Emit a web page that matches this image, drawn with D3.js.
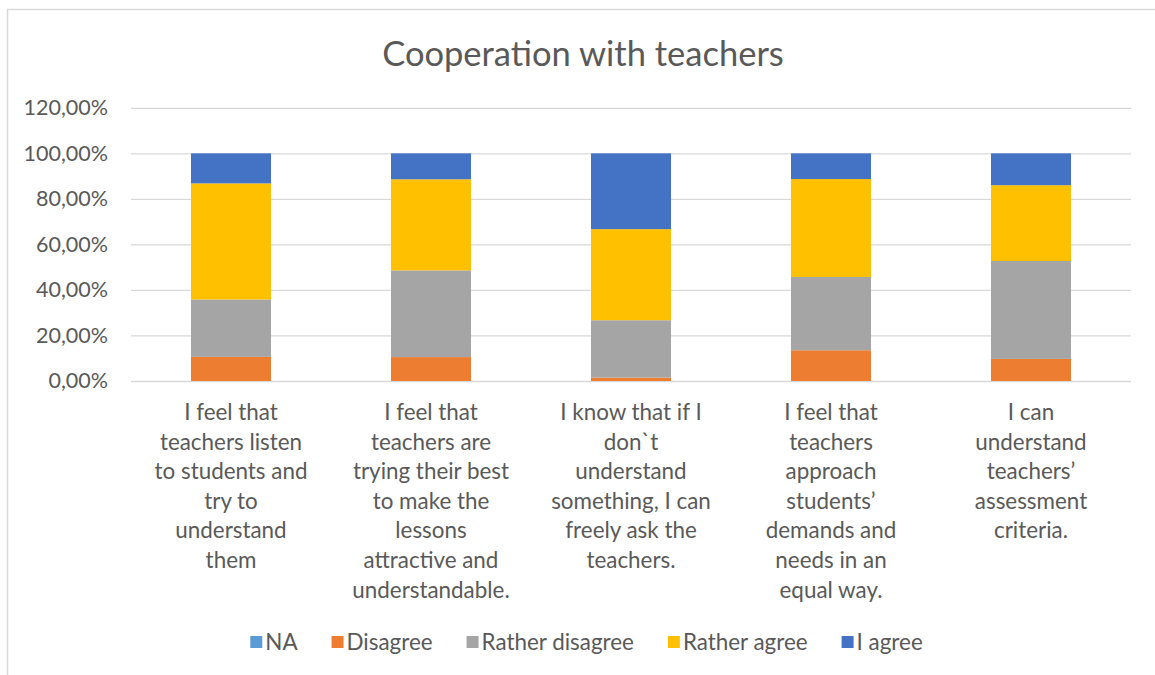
<!DOCTYPE html>
<html>
<head>
<meta charset="utf-8">
<script src="https://cdn.jsdelivr.net/npm/d3@7"></script>
<style>
  body { margin: 0; background: #fff; }
  svg { display: block; font-family: Lato, "Open Sans", sans-serif; }
</style>
</head>
<body>
<div id="chart"></div>
<script>
// categories (wrapped as in the original)
let categories = [
    ["I feel that", "teachers listen", "to students and", "try to", "understand", "them"],
    ["I feel that", "teachers are", "trying their best", "to make the", "lessons", "attractive and", "understandable."],
    ["I know that if I", "don`t", "understand", "something, I can", "freely ask the", "teachers."],
    ["I feel that", "teachers", "approach", "students’", "demands and", "needs in an", "equal way."],
    ["I can", "understand", "teachers’", "assessment", "criteria."]
]
let seriesNames = ["NA", "Disagree", "Rather disagree", "Rather agree", "I agree"]
let seriesColors = ["#5B9BD5", "#ED7D31", "#A5A5A5", "#FFC000", "#4472C4"]

let naValues = [0, 0, 0, 0, 0]
let disagreeValues = [0.106, 0.105, 0.015, 0.135, 0.097]
let ratherDisagreeValues = [0.252, 0.381, 0.252, 0.322, 0.43]
let ratherAgreeValues = [0.51, 0.40, 0.40, 0.43, 0.333]
let iAgreeValues = [0.132, 0.114, 0.333, 0.113, 0.14]

let yTicks = [0, 0.2, 0.4, 0.6, 0.8, 1.0, 1.2]

let width = 1155
let height = 675
let margin = { left: 131, right: 24, top: 108, bottom: 294 }

let svg = d3.select("#chart").append("svg")
    .attr("width", width)
    .attr("height", height)

// chart frame
svg.append("rect")
    .attr("x", 7.5).attr("y", 9.5)
    .attr("width", 1160).attr("height", 680)
    .attr("fill", "none")
    .attr("stroke", "#D9D9D9")
    .attr("stroke-width", 1.5)

svg.append("text")
    .attr("x", 583).attr("y", 66)
    .attr("text-anchor", "middle")
    .attr("font-size", 34.5)
    .attr("fill", "#595959")
    .text("Cooperation with teachers")

let rows = categories.map((c, i) => ({
    idx: i,
    "NA": naValues[i],
    "Disagree": disagreeValues[i],
    "Rather disagree": ratherDisagreeValues[i],
    "Rather agree": ratherAgreeValues[i],
    "I agree": iAgreeValues[i]
}))

let x = d3.scaleBand()
    .domain(d3.range(categories.length))
    .range([margin.left, width - margin.right])
    .paddingInner(0.6)
    .paddingOuter(0.3)

let y = d3.scaleLinear()
    .domain([0, 1.2])
    .range([381, 107.8])

// gridlines + tick labels
let yAxis = svg.append("g")
    .attr("transform", "translate(" + margin.left + ",0)")
    .call(d3.axisLeft(y)
        .tickValues(yTicks)
        .tickSize(-(width - margin.right - margin.left))
        .tickPadding(23)
        .tickFormat(d => d3.format(".2f")(d * 100).replace(".", ",") + "%"))
yAxis.select(".domain").remove()
yAxis.selectAll(".tick line").attr("stroke", "#D9D9D9").attr("stroke-width", 1.3)
yAxis.selectAll(".tick text")
    .attr("font-size", 21.5)
    .attr("fill", "#595959")
    .attr("font-family", "Lato, sans-serif")

let stack = d3.stack().keys(seriesNames)
let layers = stack(rows)

svg.append("g").selectAll("g")
    .data(layers)
    .join("g")
    .attr("fill", (d, i) => seriesColors[i])
    .selectAll("rect")
    .data(d => d)
    .join("rect")
    .attr("x", d => x(d.data.idx))
    .attr("width", x.bandwidth())
    .attr("y", d => y(d[1]))
    .attr("height", d => y(d[0]) - y(d[1]))

// category labels
let labels = svg.append("g")
    .selectAll("text")
    .data(categories)
    .join("text")
    .attr("text-anchor", "middle")
    .attr("font-size", 22.4)
    .attr("fill", "#595959")
    .attr("x", (d, i) => x(i) + x.bandwidth() / 2)
labels.selectAll("tspan")
    .data(d => d)
    .join("tspan")
    .attr("x", function() { return d3.select(this.parentNode).attr("x") })
    .attr("y", (d, i) => 420 + i * 29.6)
    .text(d => d)

// legend
let legend = svg.append("g")
let lx = 0
seriesNames.forEach((name, i) => {
    let item = legend.append("g").attr("transform", "translate(" + lx + ",0)")
    item.append("rect")
        .attr("x", 0).attr("y", -6)
        .attr("width", 12).attr("height", 12)
        .attr("fill", seriesColors[i])
    let t = item.append("text")
        .attr("x", 15).attr("y", 7.8)
        .attr("font-size", 22.4)
        .attr("fill", "#595959")
        .text(name)
    lx += 15 + t.node().getComputedTextLength() + 34
})
let legendWidth = lx - 34
legend.attr("transform", "translate(" + (586.5 - legendWidth / 2) + ",642)")
</script>
</body>
</html>
